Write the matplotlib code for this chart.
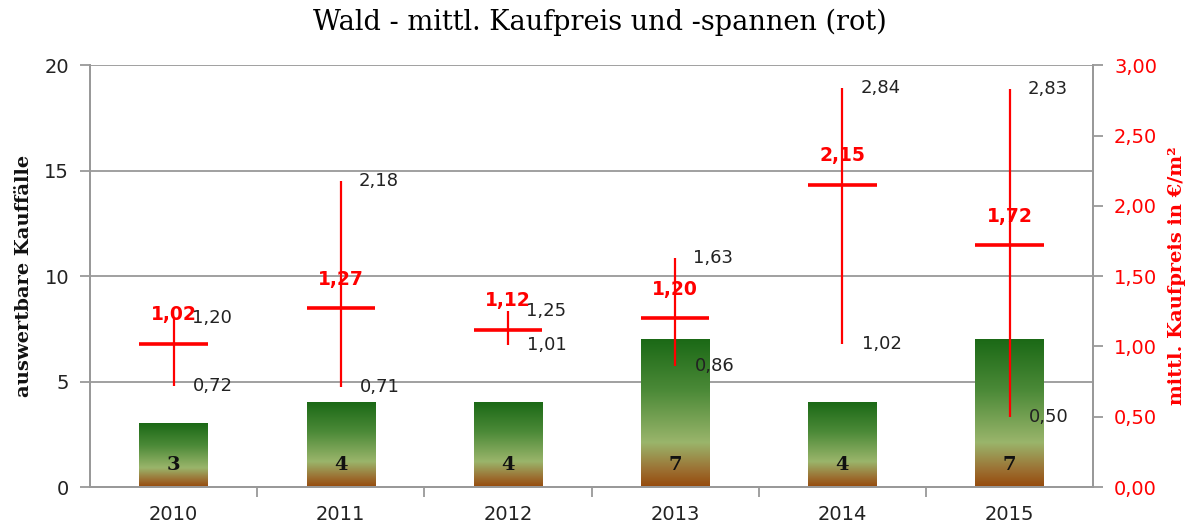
import numpy as np
import matplotlib
matplotlib.use("Agg")
import matplotlib.pyplot as plt
from matplotlib.colors import LinearSegmentedColormap

years = ["2010", "2011", "2012", "2013", "2014", "2015"]
counts = [3, 4, 4, 7, 4, 7]
mean_price = [1.02, 1.27, 1.12, 1.20, 2.15, 1.72]
max_price = [1.20, 2.18, 1.25, 1.63, 2.84, 2.83]
min_price = [0.72, 0.71, 1.01, 0.86, 1.02, 0.50]

def de(v):
    return f"{v:.2f}".replace(".", ",")

fig = plt.figure(figsize=(12, 5.26), dpi=100)
ax = fig.add_axes([0.075, 0.074, 0.836, 0.802])
ax2 = ax.twinx()

x = np.arange(len(years))
w = 0.41
cmap = LinearSegmentedColormap.from_list(
    "bar", [(0.0, "#964a0c"), (0.12, "#9c7234"), (0.30, "#9ab56b"),
            (0.65, "#4c8a38"), (1.0, "#1b6916")])
grad = np.linspace(0, 1, 256).reshape(-1, 1)

ax.set_xlim(-0.5, len(years) - 0.5)
ax.set_ylim(0, 20)
for xi, c in zip(x, counts):
    ax.imshow(grad, extent=[xi - w / 2, xi + w / 2, 0, c], origin="lower",
              cmap=cmap, aspect="auto", zorder=2, interpolation="bilinear")
    ax.text(xi, 1.05, str(c), ha="center", va="center", fontsize=14,
            fontweight="bold", family="DejaVu Serif", color="#111111", zorder=5)
ax.set_xlim(-0.5, len(years) - 0.5)
ax.set_ylim(0, 20)
ax.set_aspect("auto")

ax.set_yticks([0, 5, 10, 15, 20])
ax.yaxis.grid(True, color="#999999", linewidth=1.3, zorder=0)
ax.set_axisbelow(True)
ax.set_xticks(x)
ax.set_xticklabels(years, fontsize=14, color="#222222")
ax.tick_params(axis="x", length=0, pad=13)
ax.set_xticks(np.arange(0.5, len(years) - 0.5, 1), minor=True)
ax.tick_params(axis="x", which="minor", length=7, color="#999999", width=1.3)
ax.tick_params(axis="y", length=7, color="#999999", width=1.3, labelsize=14,
               labelcolor="#222222", pad=8)
for s in ["top"]:
    ax.spines[s].set_visible(False)
    ax2.spines[s].set_visible(False)
for s in ["left", "bottom", "right"]:
    ax.spines[s].set_color("#999999")
    ax.spines[s].set_linewidth(1.3)
    ax2.spines[s].set_color("#999999")
    ax2.spines[s].set_linewidth(1.3)
ax.set_ylabel("auswertbare Kauffälle", family="DejaVu Serif", fontsize=14,
              fontweight="bold", color="#111111", labelpad=8)

ax2.set_ylim(0, 3)
ax2.set_yticks(np.arange(0, 3.01, 0.5))
ax2.set_yticklabels([de(v) for v in np.arange(0, 3.01, 0.5)])
ax2.tick_params(axis="y", length=7, color="#999999", width=1.3, labelsize=14,
                labelcolor="#ff0000", pad=8)
ax2.set_ylabel("mittl. Kaufpreis in €/m²", family="DejaVu Serif", fontsize=14,
               fontweight="bold", color="#ff0000", labelpad=8)

for xi, mn, lo, hi in zip(x, mean_price, min_price, max_price):
    ax2.vlines(xi, lo, hi, color="#ff0000", linewidth=1.6, zorder=6)
    ax2.hlines(mn, xi - w / 2, xi + w / 2, color="#ff0000", linewidth=2.6, zorder=6)
    ax2.annotate(de(mn), (xi, mn), xytext=(0, 21), textcoords="offset points",
                 ha="center", va="center", color="#ff0000", fontsize=13.5,
                 fontweight="bold", zorder=7)
    ax2.annotate(de(hi), (xi, hi), xytext=(13, 0), textcoords="offset points",
                 ha="left", va="center", color="#222222", fontsize=13, zorder=7)
    ax2.annotate(de(lo), (xi, lo), xytext=(14, 0), textcoords="offset points",
                 ha="left", va="center", color="#222222", fontsize=13, zorder=7)

fig.text(0.5, 0.958, "Wald - mittl. Kaufpreis und -spannen (rot)",
         ha="center", va="center", family="DejaVu Serif", fontsize=19.5)

fig.savefig("out.png", dpi=100)
